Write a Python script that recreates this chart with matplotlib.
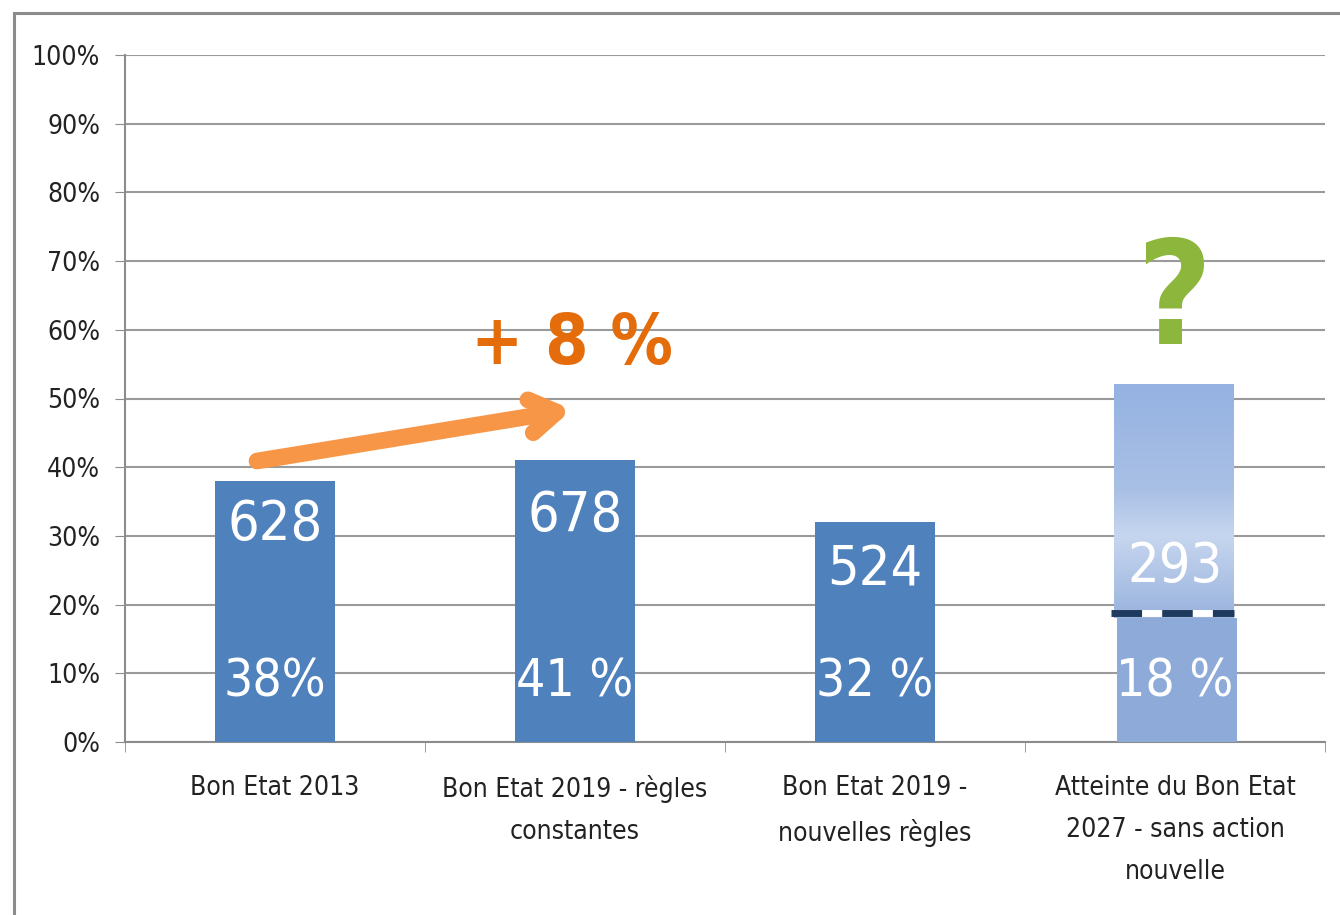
import matplotlib
matplotlib.use("Agg")
import matplotlib.pyplot as plt
import numpy as np
from matplotlib.patches import Rectangle
from matplotlib.colors import LinearSegmentedColormap

categories = ["Bon Etat 2013", "Bon Etat 2019 - règles\nconstantes",
              "Bon Etat 2019 -\nnouvelles règles",
              "Atteinte du Bon Etat\n2027 - sans action\nnouvelle"]
pct_values = [38, 41, 32, 18]
pct_labels = ["38%", "41 %", "32 %", "18 %"]
counts = [628, 678, 524, 293]
target_2027 = 52
yticks = list(range(0, 101, 10))

plt.rcParams['font.family'] = ['DejaVu Sans']
plt.rcParams['font.stretch'] = 'condensed'

fig = plt.figure(figsize=(13.4, 9.15), dpi=100)
ax = fig.add_axes([125/1340, 1-742/915, 1200/1340, (742-55)/915])

fig.patches.append(Rectangle((14/1340, -0.1), 1.2, 1-13/915+0.1, transform=fig.transFigure,
                             fill=False, edgecolor='#8c8c8c', lw=2.2))

x = np.arange(len(categories))
w = 0.4
solid = '#4f81bd'
ax.bar(x[:3], pct_values[:3], width=w, color=solid, zorder=3)
ax.bar(x[3]+0.007, pct_values[3], width=w, color='#8eaad8', zorder=3)
cmap = LinearSegmentedColormap.from_list('g', [(0, '#9ab3dd'), (0.35, '#c6d6ef'), (0.55, '#a9c0e5'), (1, '#95b2e2')])
grad = np.linspace(0, 1, 256).reshape(-1, 1)
ax.imshow(grad, cmap=cmap, aspect='auto', extent=(x[3]-w/2-0.005, x[3]+w/2-0.005, pct_values[3], target_2027),
          origin='lower', zorder=3)
xl = np.array([x[3]-w/2-0.015, x[3]+w/2-0.005])
ax.plot(xl, [18.8, 18.8], color='white', lw=5, zorder=4, solid_capstyle='butt')
ax.plot(xl, [18.8, 18.8], color='#1f3a5f', lw=5, zorder=5, dashes=(4.4, 2.9), solid_capstyle='butt')

count_y = [31.6, 33.0, 25.0, 25.5]
for i in range(4):
    ax.text(x[i], count_y[i], str(counts[i]), ha='center', va='center', color='white', fontsize=40, zorder=6)
    ax.text(x[i], 8.6, pct_labels[i], ha='center', va='center', color='white', fontsize=37, zorder=6)

ax.annotate('', xy=(0.99, 48.4), xytext=(-0.06, 40.9),
            arrowprops=dict(arrowstyle='->,head_length=1.9,head_width=1.2', color='#f79646', lw=12,
                            shrinkA=0, shrinkB=0), zorder=6)
ax.text(0.99, 57.9, '+ 8 %', ha='center', va='center', color='#e46c0a', fontsize=50,
        fontweight='bold', zorder=6)
ax.text(x[3], 63.8, '?', ha='center', va='center', color='#8db63c', fontsize=104,
        fontweight='bold', zorder=6)

ax.set_xlim(-0.5, 3.5)
ax.set_ylim(0, 100)
ax.set_yticks(yticks)
ax.set_yticklabels([f"{t}%" for t in yticks], fontsize=19, color='#222222')
ax.set_xticks(x)
ax.set_xticklabels(categories, fontsize=19, color='#222222', linespacing=1.8)
ax.set_xticks(np.arange(-0.5, 3.6, 1), minor=True)
ax.tick_params(axis='x', which='major', length=0, pad=24)
ax.tick_params(axis='x', which='minor', length=7, direction='out', color='#8c8c8c')
ax.tick_params(axis='y', length=7, direction='out', color='#8c8c8c', pad=11)
ax.grid(axis='y', color='#9a9a9a', lw=1.5, zorder=0)
for s in ['top', 'right']:
    ax.spines[s].set_visible(False)
for s in ['left', 'bottom']:
    ax.spines[s].set_color('#8c8c8c')
    ax.spines[s].set_linewidth(1.5)

fig.savefig('out.png', dpi=100)
